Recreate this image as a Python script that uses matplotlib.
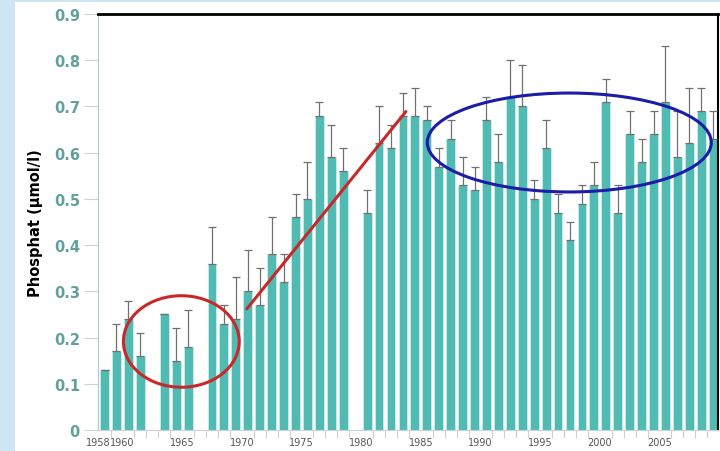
import matplotlib.pyplot as plt
import numpy as np
from matplotlib.patches import Ellipse, Rectangle
from matplotlib.ticker import FixedLocator, FuncFormatter

# Annual mean phosphate with upper error whiskers (NaN = no data that year)
YEARS = list(range(1958, 2010))
PHOSPHATE = [
    0.13, 0.17, 0.24, 0.16, np.nan, 0.25, 0.15, 0.18, np.nan, 0.36,
    0.23, 0.24, 0.30, 0.27, 0.38, 0.32, 0.46, 0.50, 0.68, 0.59,
    0.56, np.nan, 0.47, 0.62, 0.61, 0.68, 0.68, 0.67, 0.57, 0.63,
    0.53, 0.52, 0.67, 0.58, 0.72, 0.70, 0.50, 0.61, 0.47, 0.41,
    0.49, 0.53, 0.71, 0.47, 0.64, 0.58, 0.64, 0.71, 0.59, 0.62,
    0.69, 0.63,
]
UPPER = [
    0.13, 0.23, 0.28, 0.21, np.nan, 0.25, 0.22, 0.26, np.nan, 0.44,
    0.27, 0.33, 0.39, 0.35, 0.46, 0.38, 0.51, 0.58, 0.71, 0.66,
    0.61, np.nan, 0.52, 0.70, 0.66, 0.73, 0.74, 0.70, 0.61, 0.67,
    0.59, 0.57, 0.72, 0.64, 0.80, 0.79, 0.54, 0.67, 0.51, 0.45,
    0.53, 0.58, 0.76, 0.53, 0.69, 0.63, 0.69, 0.83, 0.69, 0.74,
    0.74, 0.69,
]
LABEL_YEARS = [1958, 1960, 1965, 1970, 1975, 1980, 1985, 1990, 1995, 2000, 2005]
Y_TICKS = [0, 0.1, 0.2, 0.3, 0.4, 0.5, 0.6, 0.7, 0.8, 0.9]

BAR_COLOR = "#51bbb3"
TICK_COLOR = "#62a09c"

years = np.array(YEARS, dtype=float)
values = np.array(PHOSPHATE)
upper = np.array(UPPER)

fig = plt.figure(figsize=(7.2, 4.52), dpi=100, facecolor="#cfe6f2")
fig.patches.append(
    Rectangle((15 / 720, 0), 705 / 720, 449 / 452, transform=fig.transFigure,
              facecolor="white", edgecolor="none", zorder=-1)
)
ax = fig.add_axes([98 / 720, 21 / 452, 620 / 720, 416 / 452])

ax.bar(years, values, width=0.74, color=BAR_COLOR, edgecolor="#c4f0ee",
       linewidth=0.6, zorder=2)
ax.errorbar(years, values, yerr=[np.zeros_like(values), upper - values],
            fmt="none", ecolor="#707070", elinewidth=0.9, capsize=3,
            capthick=0.9, zorder=3)

# hand-drawn style highlights
ax.add_patch(Ellipse((1964.43, 0.1915), 9.7, 0.198, fill=False,
                     edgecolor="#c8282a", linewidth=2.2, zorder=4))
ax.plot([1969.92, 1983.25], [0.262, 0.689], color="#c8282a", linewidth=2.2,
        solid_capstyle="round", zorder=4)
ax.add_patch(Ellipse((1996.94, 0.622), 23.8, 0.214, fill=False,
                     edgecolor="#1c1ca8", linewidth=2.2, zorder=4))

ax.set_xlim(1957.45, 2009.4)
ax.set_ylim(0, 0.9)

# year labels sit on the bar boundaries, ticks mark every boundary
ax.xaxis.set_major_locator(FixedLocator([y - 0.5 for y in LABEL_YEARS]))
ax.xaxis.set_major_formatter(FuncFormatter(lambda v, _: f"{int(round(v + 0.5))}"))
ax.xaxis.set_minor_locator(FixedLocator(np.arange(1957.5, 2010, 1.0)))
ax.tick_params(axis="x", which="major", length=0, pad=5, labelsize=7,
               labelcolor="#555555")
ax.tick_params(axis="x", which="minor", length=6, color="#c8d4d4", width=0.8)

ax.set_yticks(Y_TICKS)
ax.yaxis.set_major_formatter(FuncFormatter(lambda v, _: "0" if v == 0 else f"{v:.1f}"))
ax.tick_params(axis="y", length=10, color="#c8d4d4", width=0.8, pad=3)
for lab in ax.get_yticklabels():
    lab.set_fontsize(10.5)
    lab.set_fontweight("bold")
    lab.set_color(TICK_COLOR)

ax.set_ylabel("Phosphat (µmol/l)", fontsize=10.5, fontweight="bold", labelpad=8)

ax.spines["left"].set_color("#a9ccc8")
ax.spines["bottom"].set_color("#c8d4d4")
ax.spines["top"].set_color("black")
ax.spines["top"].set_linewidth(2)
ax.spines["right"].set_color("black")
ax.spines["right"].set_linewidth(1.5)

fig.savefig("out.png", dpi=100, facecolor=fig.get_facecolor())
